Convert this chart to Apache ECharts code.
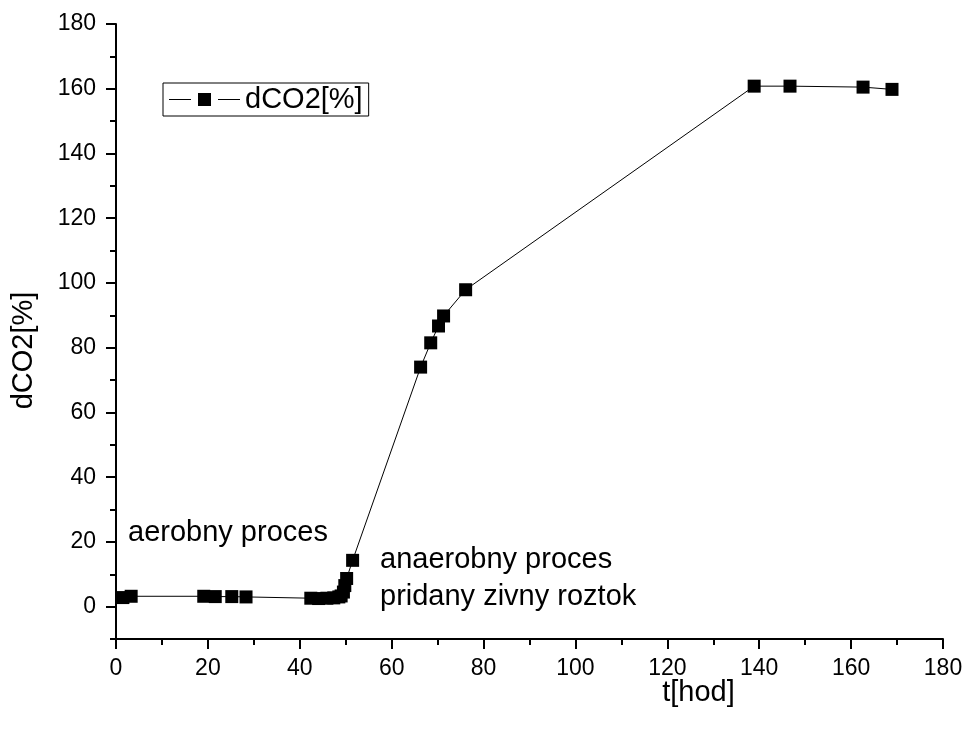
<!DOCTYPE html>
<html>
<head>
<meta charset="utf-8">
<script src="https://cdn.jsdelivr.net/npm/echarts@6/dist/echarts.min.js"></script>
<style>
  html, body { margin: 0; padding: 0; background: #fff; }
  #chart { width: 968px; height: 735px; }
</style>
</head>
<body>
<div id="chart"></div>
<script>
// Time of measurement [h]
const hours = [1.5, 3.3, 19.1, 21.6, 25.2, 28.3, 42.4, 44.1, 45.9, 47.4, 48.5, 49.0, 49.5, 49.8, 50.2, 51.5,
               66.3, 68.5, 70.2, 71.3, 76.1, 138.9, 146.7, 162.6, 168.9];
// dCO2 [%]
const dco2 = [2.8, 3.2, 3.2, 3.1, 3.1, 3.0, 2.6, 2.5, 2.6, 2.7, 3.0, 3.3, 4.5, 6.5, 8.7, 14.3,
              74.0, 81.5, 86.7, 89.8, 97.9, 160.8, 160.8, 160.5, 159.8];

const yMajor = [0, 20, 40, 60, 80, 100, 120, 140, 160, 180];
const yMinor = [-10, 10, 30, 50, 70, 90, 110, 130, 150, 170];

const FONT = '"Liberation Sans", Arial, sans-serif';
const points = hours.map((h, i) => [h, dco2[i]]);

// legend key: short line, square marker, short line
const legendIcon = 'path://M0,6L22,6L22,7L0,7Z M29,0L42,0L42,13L29,13Z M49,6L71,6L71,7L49,7Z';

const chart = echarts.init(document.getElementById('chart'), null, { renderer: 'canvas' });

const axisLine = { show: true, onZero: false, lineStyle: { color: '#000', width: 2 } };

chart.setOption({
  animation: false,
  backgroundColor: '#fff',
  grid: { left: 116, right: 25, top: 24, bottom: 96, containLabel: false },
  legend: {
    left: 163, top: 83,
    orient: 'horizontal',
    padding: [2, 6, 2, 6],
    borderColor: '#000', borderWidth: 1,
    itemWidth: 71, itemHeight: 13,
    icon: legendIcon,
    itemStyle: { color: '#000' },
    textStyle: { fontFamily: FONT, fontSize: 29, color: '#000' },
    data: ['dCO2[%]']
  },
  xAxis: {
    type: 'value', min: 0, max: 180, interval: 20,
    name: 't[hod]', nameLocation: 'middle', nameGap: 39, nameMoveOverlap: false,
    nameTextStyle: { fontFamily: FONT, fontSize: 29, color: '#000', padding: [0, 0, 0, 338] },
    axisLine: axisLine,
    axisTick: { show: true, inside: false, length: 10, lineStyle: { color: '#000', width: 2 } },
    minorTick: { show: true, splitNumber: 2, length: 6, lineStyle: { color: '#000', width: 2 } },
    axisLabel: { fontFamily: FONT, fontSize: 23, color: '#000', margin: 18 },
    splitLine: { show: false }
  },
  yAxis: [
    {
      type: 'value', min: -10, max: 180, interval: 10,
      name: 'dCO2[%]', nameLocation: 'middle', nameGap: 78, nameMoveOverlap: false,
      nameTextStyle: { fontFamily: FONT, fontSize: 29, color: '#000', padding: [0, 38, 0, 0] },
      axisLine: axisLine,
      axisTick: { show: true, inside: false, length: 10, customValues: yMajor, lineStyle: { color: '#000', width: 2 } },
      axisLabel: { fontFamily: FONT, fontSize: 23, color: '#000', margin: 20, customValues: yMajor },
      splitLine: { show: false }
    },
    {
      type: 'value', min: -10, max: 180, interval: 10, position: 'left',
      axisLine: { show: false },
      axisTick: { show: true, inside: false, length: 6, customValues: yMinor, lineStyle: { color: '#000', width: 2 } },
      axisLabel: { show: false },
      splitLine: { show: false }
    }
  ],
  series: [{
    name: 'dCO2[%]',
    type: 'line',
    data: points,
    symbol: 'rect',
    symbolSize: 13,
    showAllSymbol: true,
    itemStyle: { color: '#000' },
    lineStyle: { color: '#000', width: 1 },
    z: 3
  }],
  graphic: [
    { type: 'text', left: 128, top: 518,
      style: { text: 'aerobny proces', fontFamily: FONT, fontSize: 29, fill: '#000' } },
    { type: 'text', left: 380, top: 545,
      style: { text: 'anaerobny proces', fontFamily: FONT, fontSize: 29, fill: '#000' } },
    { type: 'text', left: 380, top: 582,
      style: { text: 'pridany zivny roztok', fontFamily: FONT, fontSize: 29, fill: '#000' } }
  ]
});
</script>
</body>
</html>
